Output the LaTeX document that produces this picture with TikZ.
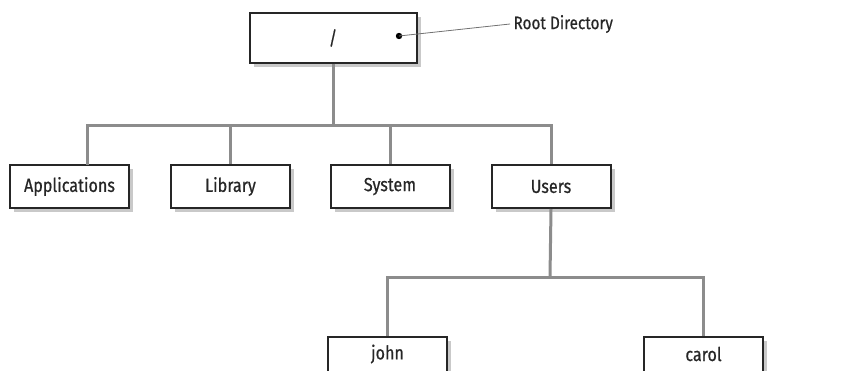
\documentclass[tikz,border=0pt]{standalone}
\usepackage{fontspec}
\setmainfont[FakeStretch=0.85,FakeBold=0.6]{Fira Sans}
\usepackage{tikz}
\usetikzlibrary{positioning,shadows,calc}

\begin{document}
\begin{tikzpicture}[
    x=1pt,y=-1pt,
    every node/.style={font=\fontsize{19}{22}\selectfont,text=black!85},
    dirbox/.style ={rectangle,draw=black!85,line width=2pt,fill=white,
                    minimum width=119pt,minimum height=43pt,inner sep=0pt,
                    drop shadow={shadow xshift=4pt,shadow yshift=-4pt,
                                 fill=black!35,opacity=.6}},
    rootbox/.style={dirbox,minimum width=167pt,minimum height=50pt},
    link/.style   ={-,black!45,line width=3pt},
    callout/.style={-,black!55,line width=0.8pt},
  ]
  \clip (0,0) rectangle (857,370);
  \fill[white] (0,0) rectangle (857,370);

  % --- root directory ---
  \node[rootbox] (root) at (333.5,37.5) {};
  \node (slash) at (333,38) {/};
  \fill (399,36) circle (3.2pt) coordinate (dot);
  \node[anchor=west,font=\fontsize{18}{21}\selectfont] (rootlbl) at (510,24) {Root Directory};
  \draw[callout] (dot) -- (rootlbl.west);

  % --- first level ---
  \node[dirbox] (apps)  at ( 69.5,186.5) {Applications};
  \node[dirbox] (lib)   at (230.5,186.5) {Library};
  \node[dirbox] (sys)   at (390.0,186.5) {System};
  \node[dirbox] (users) at (551.0,186.5) {Users};

  \coordinate (bus)     at (333.5,125);
  \coordinate (appsTop) at (87,165);
  \draw[link] (root.south) -- (bus);
  \draw[link] (appsTop) -- (appsTop |- bus) -- (users.north |- bus) -- (users.north);
  \draw[link] (lib.north) -- (lib.north |- bus);
  \draw[link] (sys.north) -- (sys.north |- bus);

  % --- home folders ---
  \node[dirbox] (john)  at (387.5,358.5) {};
  \node[dirbox] (carol) at (703.5,358.5) {};
  \node (johnlbl)  at (387.5,354) {john};
  \node (carollbl) at (703.5,354) {carol};

  \coordinate (bus2) at (550,277);
  \draw[link] (users.south) -- (bus2);
  \draw[link] (john.north) -- (john.north |- bus2) -- (carol.north |- bus2) -- (carol.north);
\end{tikzpicture}
\end{document}
